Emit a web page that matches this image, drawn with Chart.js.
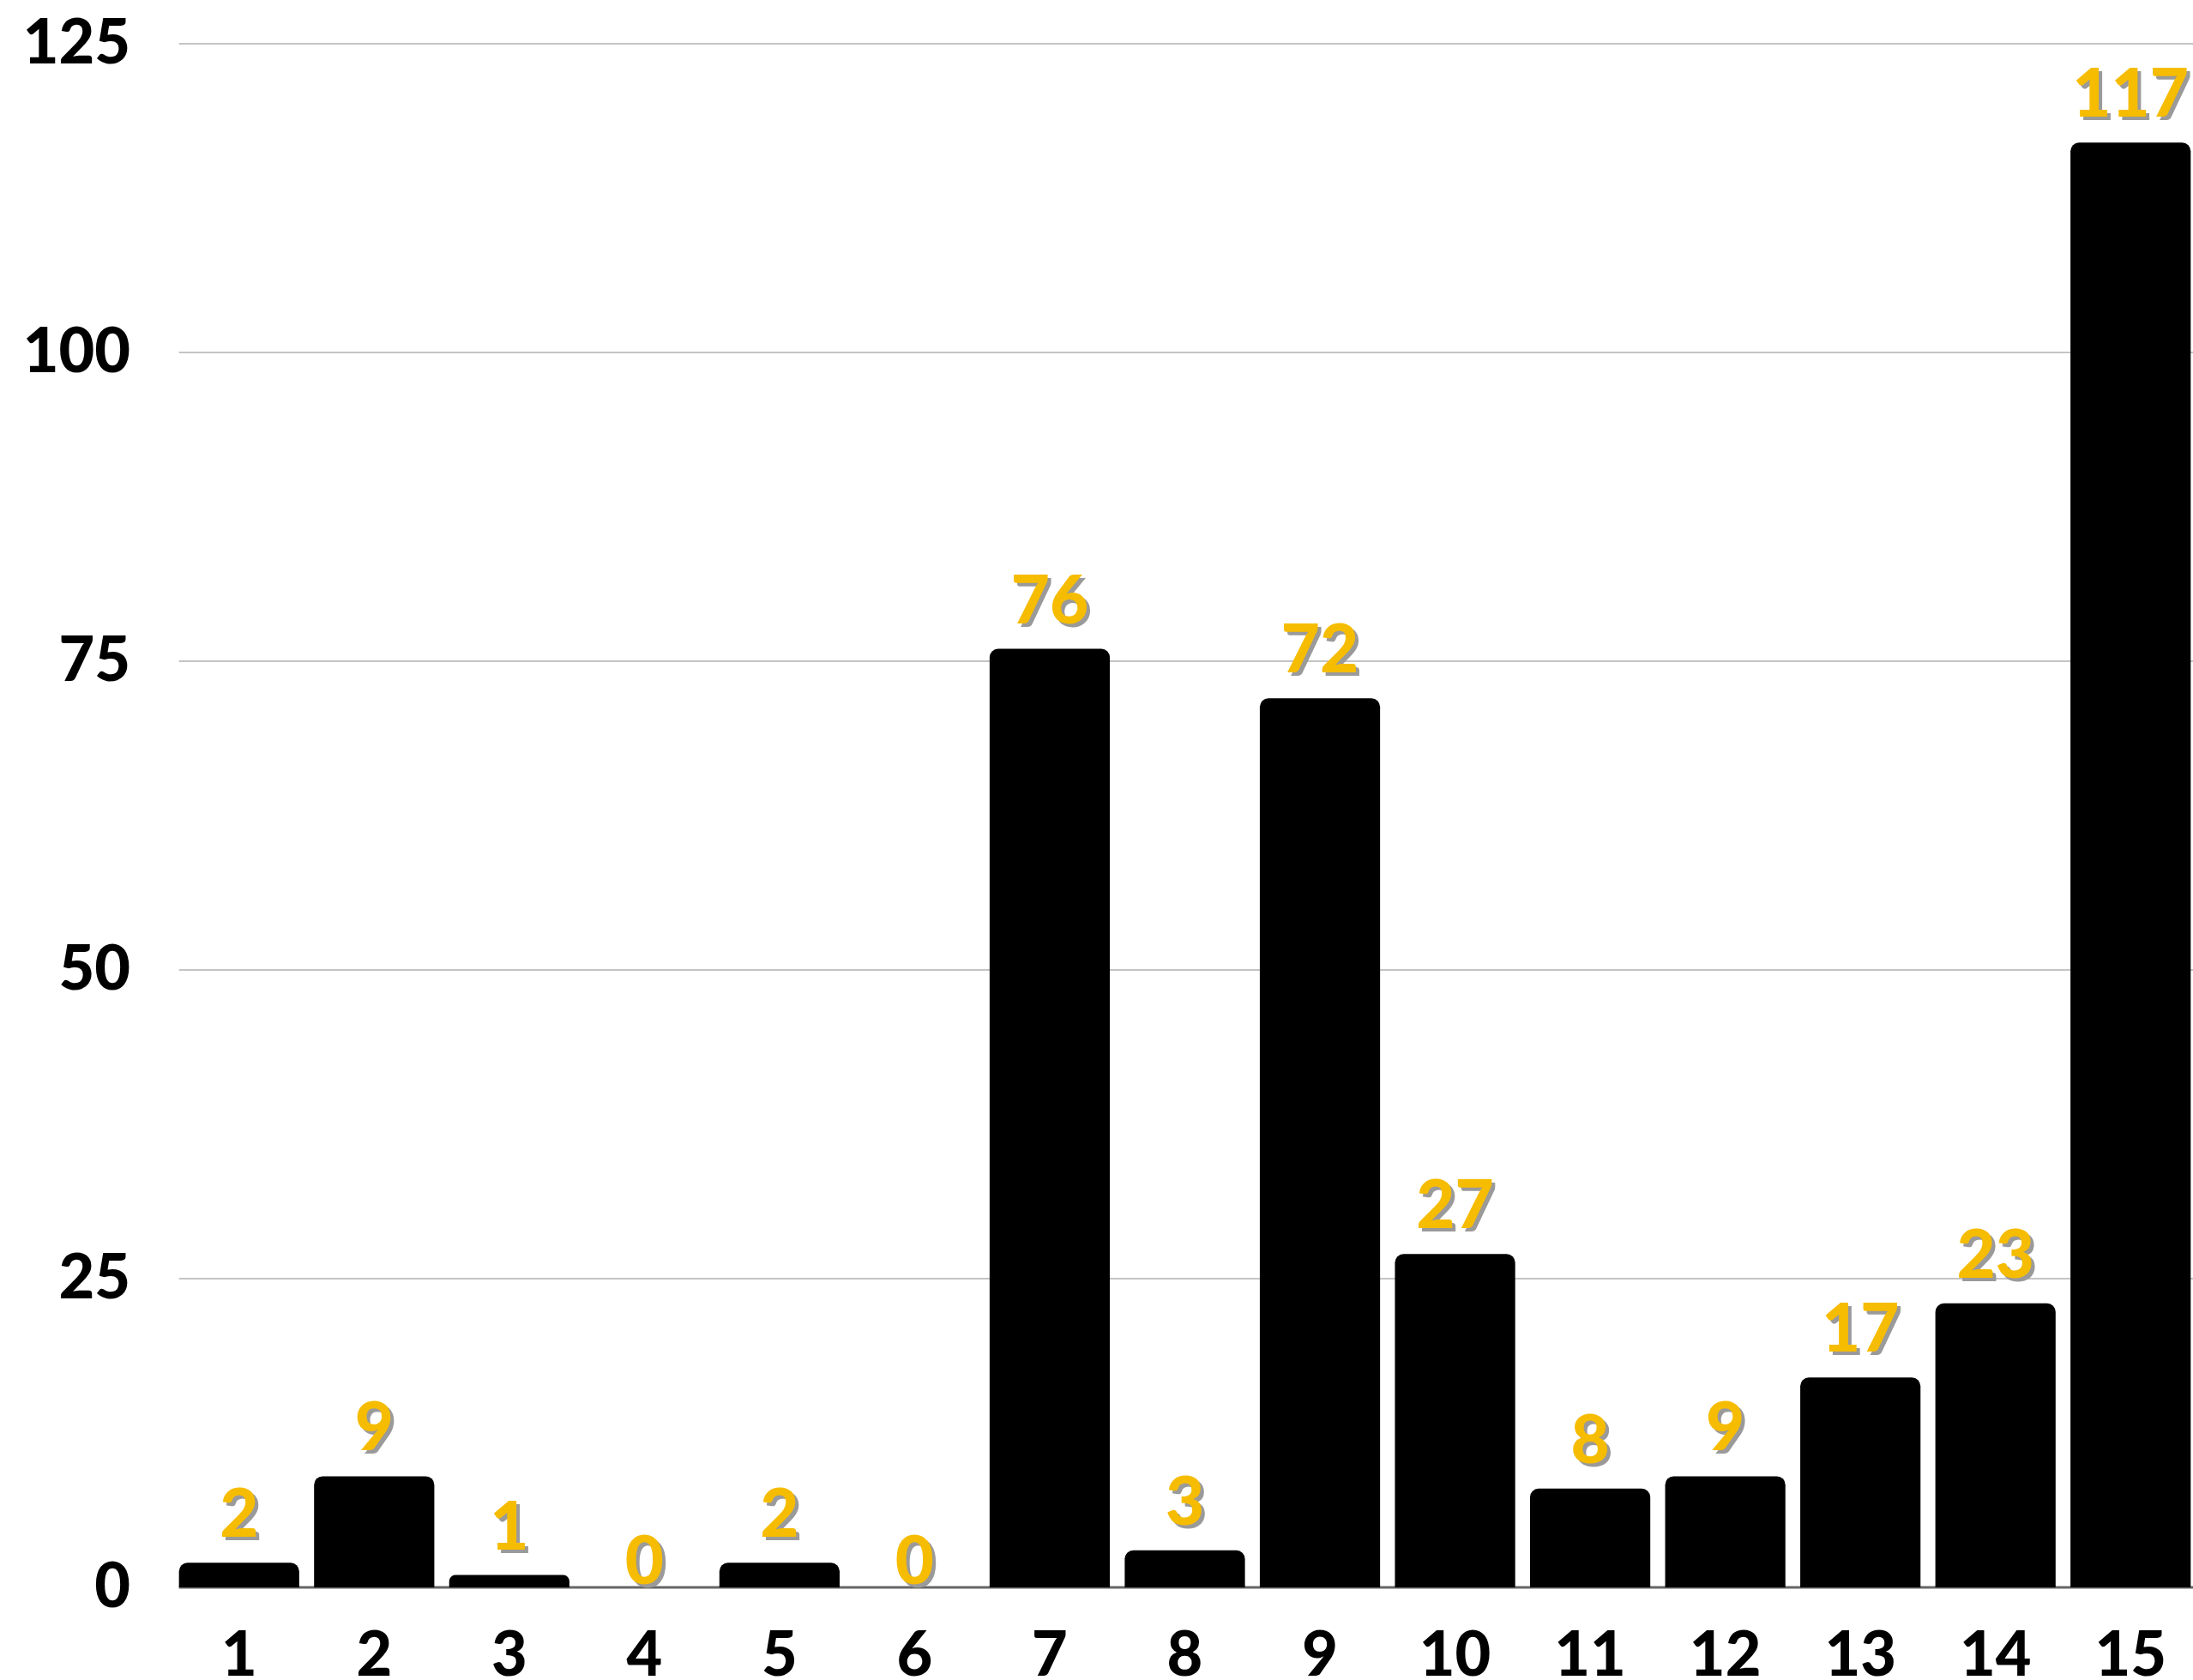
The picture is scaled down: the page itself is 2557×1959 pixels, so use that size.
<!DOCTYPE html>
<html>
<head>
<meta charset="utf-8">
<script src="https://cdn.jsdelivr.net/npm/chart.js@4.4.1/dist/chart.umd.min.js"></script>
<style>
  html, body { margin: 0; padding: 0; background: #ffffff; overflow: hidden; }
  #wrap { width: 2563px; height: 1959px; position: relative; }
</style>
</head>
<body>
<div id="wrap"><canvas id="c"></canvas></div>
<script>
const categories = ['1','2','3','4','5','6','7','8','9','10','11','12','13','14','15'];
const values = [2, 9, 1, 0, 2, 0, 76, 3, 72, 27, 8, 9, 17, 23, 117];
const yMax = 125;
const yStep = 25;
const BAR_PCT = 0.89;

const gridPlugin = {
  id: 'hGrid',
  beforeDatasetsDraw(chart) {
    const ctx = chart.ctx;
    const y = chart.scales.y;
    const xs = chart.scales.x;
    const step = xs.getPixelForValue(1) - xs.getPixelForValue(0);
    const x0 = xs.getPixelForValue(0) - step * BAR_PCT / 2;
    const x1 = chart.chartArea.right;
    ctx.save();
    y.ticks.forEach((t) => {
      const py = Math.round(y.getPixelForValue(t.value));
      ctx.beginPath();
      ctx.strokeStyle = t.value === 0 ? '#666666' : '#c4c4c4';
      ctx.lineWidth = t.value === 0 ? 3 : 2;
      ctx.moveTo(x0, py);
      ctx.lineTo(x1, py);
      ctx.stroke();
    });
    ctx.restore();
  }
};

const labelPlugin = {
  id: 'valueLabels',
  afterDatasetsDraw(chart) {
    const ctx = chart.ctx;
    const meta = chart.getDatasetMeta(0);
    ctx.save();
    ctx.font = '900 78px Lato';
    ctx.textAlign = 'center';
    ctx.textBaseline = 'alphabetic';
    meta.data.forEach((bar, i) => {
      const v = values[i];
      const off = v > 0 ? 30 : 4;
      const x = bar.x;
      const y = bar.y - off;
      ctx.fillStyle = '#9a9a9a';
      ctx.fillText(String(v), x + 4, y + 4);
      ctx.fillStyle = '#F6BC00';
      ctx.fillText(String(v), x, y);
    });
    ctx.restore();
  }
};

new Chart(document.getElementById('c'), {
  type: 'bar',
  data: {
    labels: categories,
    datasets: [{
      data: values,
      backgroundColor: '#000000',
      borderRadius: 10,
      borderSkipped: 'start',
      categoryPercentage: 1.0,
      barPercentage: BAR_PCT
    }]
  },
  options: {
    responsive: true,
    maintainAspectRatio: false,
    devicePixelRatio: 1,
    animation: false,
    layout: { padding: { top: 51, right: 0, bottom: 0, left: 0 } },
    plugins: { legend: { display: false }, tooltip: { enabled: false } },
    scales: {
      x: {
        grid: { display: false, drawTicks: false },
        border: { display: false },
        ticks: {
          color: '#000000',
          padding: 37,
          maxRotation: 0,
          autoSkip: false,
          font: { family: 'Lato', weight: '900', size: 72 }
        },
        afterFit(scale) { scale.height = 108; scale.paddingLeft = 0; scale.paddingRight = 0; }
      },
      y: {
        min: 0,
        max: yMax,
        ticks: {
          stepSize: yStep,
          color: '#000000',
          padding: 48,
          font: { family: 'Lato', weight: '900', size: 72 }
        },
        grid: { display: false, drawTicks: false },
        border: { display: false },
        afterFit(scale) { scale.width = 200; scale.paddingTop = 0; scale.paddingBottom = 0; }
      }
    }
  },
  plugins: [gridPlugin, labelPlugin]
});
</script>
</body>
</html>
